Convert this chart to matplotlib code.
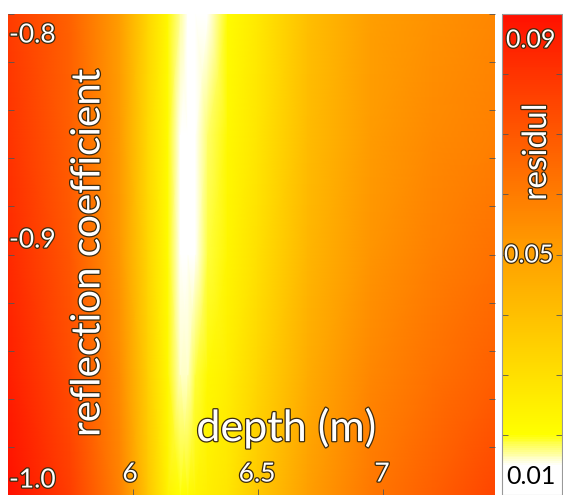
import matplotlib
matplotlib.use('Agg')
import matplotlib.pyplot as plt
import matplotlib.patheffects as pe
from matplotlib.colors import LinearSegmentedColormap
import numpy as np

# depth samples (m) and reflection coefficient samples
depth = [5.5, 5.75, 5.95, 6.06, 6.14, 6.19, 6.22, 6.25, 6.3, 6.38, 6.5, 6.7, 6.95, 7.2, 7.45]
refl = [-1.0, -0.95, -0.9, -0.85, -0.8]

# residual, one row per reflection coefficient (bottom to top)
res_m100 = [0.090, 0.077, 0.058, 0.038, 0.024, 0.020, 0.021, 0.023, 0.025, 0.028, 0.037, 0.050, 0.061, 0.068, 0.075]
res_m095 = [0.086, 0.073, 0.055, 0.035, 0.022, 0.016, 0.016, 0.019, 0.022, 0.025, 0.033, 0.046, 0.057, 0.063, 0.068]
res_m090 = [0.083, 0.070, 0.052, 0.033, 0.021, 0.014, 0.011, 0.013, 0.019, 0.023, 0.030, 0.043, 0.053, 0.059, 0.063]
res_m085 = [0.080, 0.068, 0.051, 0.032, 0.021, 0.015, 0.010, 0.011, 0.018, 0.022, 0.028, 0.041, 0.051, 0.056, 0.059]
res_m080 = [0.078, 0.067, 0.050, 0.033, 0.022, 0.017, 0.013, 0.010, 0.015, 0.021, 0.027, 0.040, 0.050, 0.054, 0.057]

xticks = [6, 6.5, 7]
xticklabels = ['6', '6.5', '7']
yticklabels = ['-0.8', '-0.9', '-1.0']
cbar_ticks = ['0.09', '0.05', '0.01']

VMIN, VMAX = 0.01, 0.09
W, H = 563, 495
FONT = 'Lato'


def fx(x):
    return x / W


def fy(y):
    # y measured from the top in pixels
    return 1 - y / H


cmap = LinearSegmentedColormap.from_list('residual', [
    (0.0, '#ffffff'), (0.06, '#ffffff'), (0.125, '#ffff00'),
    (0.5, '#ffa000'), (1.0, '#ff1000')])

fig = plt.figure(figsize=(W / 100, H / 100), dpi=100)
ax = fig.add_axes([fx(8), 0, fx(495 - 8), 481 / H])
cax = fig.add_axes([fx(502), 0, fx(562 - 502), 481 / H])

grid = np.array([res_m100, res_m095, res_m090, res_m085, res_m080])
mesh = ax.pcolormesh(depth, refl, grid, cmap=cmap, vmin=VMIN, vmax=VMAX,
                     shading='gouraud')
ax.set_xlim(5.5, 7.45)
ax.set_ylim(-1.0, -0.8)
ax.set_xticks(xticks)
ax.set_yticks(np.arange(-1.0, -0.79, 0.02))
ax.tick_params(direction='in', length=4, width=0.6, color='#555555',
               labelleft=False, labelbottom=False, right=True)
for s in ax.spines.values():
    s.set_visible(False)

cb = fig.colorbar(mesh, cax=cax)
cb.set_ticks(np.arange(0.01, 0.0901, 0.01))
cax.tick_params(direction='in', length=4, width=0.6, color='#555555',
                labelright=False, left=True)
cb.outline.set_edgecolor('#999999')
cb.outline.set_linewidth(0.8)

stroke = [pe.withStroke(linewidth=1.8, foreground='#3a2a10')]


def label(x, y, s, size, ha='center', rot=0, color='white', fx_=stroke):
    fig.text(fx(x), fy(y), s, ha=ha, va='center', rotation=rot, color=color,
             fontsize=size, family=FONT, path_effects=fx_)


# y tick labels
for s, y in zip(yticklabels, [35, 240, 480]):
    label(9, y, s, 19, ha='left')
# x tick labels
for s, x in zip(xticklabels, [130, 257, 382]):
    label(x, 474, s, 19)

label(286, 428, 'depth (m)', 31)
label(88, 253, 'reflection coefficient', 29, rot=90)

# colorbar labels
label(506, 40, cbar_ticks[0], 18, ha='left')
label(504, 255, cbar_ticks[1], 18, ha='left')
label(506, 476, cbar_ticks[2], 18, ha='left', color='black', fx_=None)
label(537, 152, 'residul', 24, rot=90)

fig.savefig('out.png', dpi=100)
